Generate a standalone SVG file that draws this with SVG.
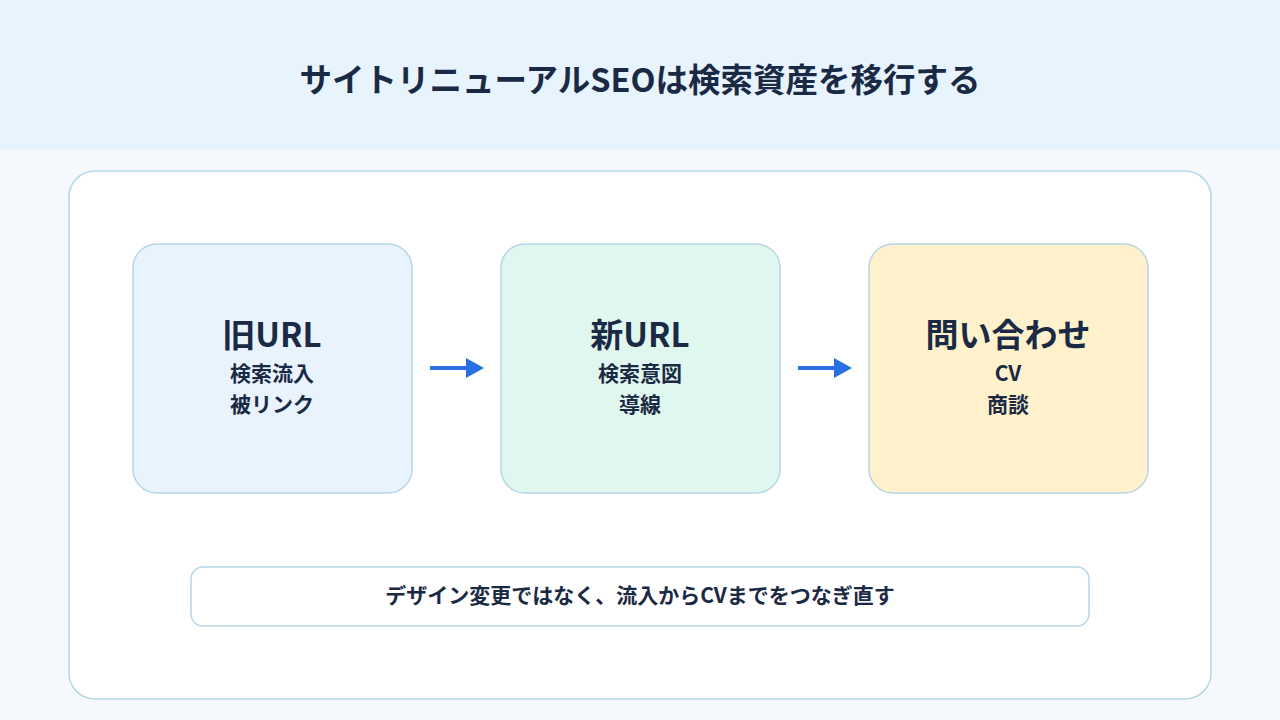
<svg xmlns="http://www.w3.org/2000/svg" width="1280" height="720" viewBox="0 0 1280 720">
<style>
text{font-family:"Noto Sans CJK JP","Noto Sans",sans-serif;fill:#1b2a44;font-weight:bold;text-anchor:middle}
.card{stroke:#b7d6e6;stroke-width:1.5}
.h{font-size:33px}.s{font-size:21px}
</style>
<defs><marker id="ah" markerWidth="5" markerHeight="5" refX="0" refY="2.5" orient="auto" markerUnits="strokeWidth"><path d="M0,0L4.5,2.5L0,5z" fill="#2a6fe0"/></marker></defs>
<rect width="1280" height="720" fill="#f5f9fd"/>
<rect width="1280" height="150" fill="#e8f4fd"/>
<text x="640" y="92" font-size="32.5">サイトリニューアルSEOは検索資産を移行する</text>
<rect x="69" y="171" width="1142" height="528" rx="26" fill="#fff" class="card"/>
<g id="old"><rect x="133" y="244" width="279" height="249" rx="24" fill="#e8f3fd" class="card"/>
<text x="272" y="347" class="h">旧URL</text><text x="272" y="381" class="s">検索流入</text><text x="272" y="412" class="s">被リンク</text></g>
<g id="new"><rect x="501" y="244" width="279" height="249" rx="24" fill="#e0f7ef" class="card"/>
<text x="640" y="347" class="h">新URL</text><text x="640" y="381" class="s">検索意図</text><text x="640" y="412" class="s">導線</text></g>
<g id="cv"><rect x="869" y="244" width="279" height="249" rx="24" fill="#fef1cb" class="card"/>
<text x="1008" y="347" class="h">問い合わせ</text><text x="1008" y="381" class="s">CV</text><text x="1008" y="412" class="s">商談</text></g>
<g id="connectors" stroke="#2a6fe0" stroke-width="4">
<line x1="430" y1="368" x2="466" y2="368" marker-end="url(#ah)"/>
<line x1="798" y1="368" x2="834" y2="368" marker-end="url(#ah)"/>
</g>
<g id="note"><rect x="191" y="567" width="898" height="59" rx="12" fill="#fff" class="card"/>
<text x="640" y="603" font-size="21">デザイン変更ではなく、流入からCVまでをつなぎ直す</text></g>
</svg>
